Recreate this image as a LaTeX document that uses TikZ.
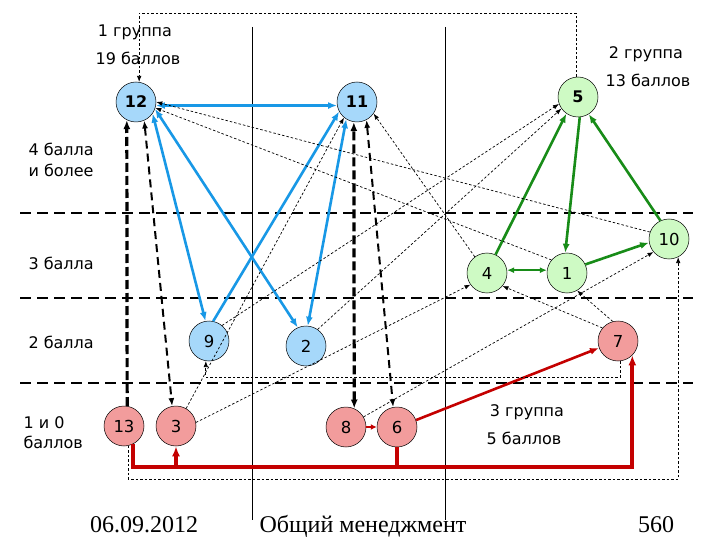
\documentclass[tikz,border=0pt]{standalone}
\usepackage{fontspec}
\setmainfont{DejaVu Sans}
\newfontfamily\footserif{Liberation Serif}
\usetikzlibrary{arrows.meta,calc}

\definecolor{vblue}{RGB}{166,216,250}
\definecolor{vgreen}{RGB}{206,250,196}
\definecolor{vred}{RGB}{242,156,156}
\definecolor{eblue}{RGB}{24,152,230}
\definecolor{egreen}{RGB}{24,140,24}
\definecolor{ered}{RGB}{196,0,0}

\tikzset{
	vtx/.style={circle,draw,line width=0.5pt,minimum size=40pt,inner sep=0pt,font=\fontsize{16.5}{16.5}\selectfont},
	bvtx/.style={font=\fontsize{16}{16}\selectfont\bfseries},
	bl/.style={vtx,fill=vblue},
	gr/.style={vtx,fill=vgreen},
	rd/.style={vtx,fill=vred},
	lbl/.style={anchor=base,font=\fontsize{16}{16}\selectfont},
	lbll/.style={anchor=base west,font=\fontsize{16}{16}\selectfont},
	foot/.style={anchor=base,font=\footserif\fontsize{24}{24}\selectfont},
	sep/.style={line width=2.4pt,dash pattern=on 11pt off 6pt},
	bigtip/.style={>={Latex[length=9pt,width=7pt]}},
	blueline/.style={draw=eblue,line width=2.6pt,bigtip},
	greenline/.style={draw=egreen,line width=2.6pt,bigtip},
	redline/.style={draw=ered,line width=2.6pt,bigtip},
	redpath/.style={draw=ered,line width=3.8pt,>={Latex[length=10pt,width=8pt]}},
	fat/.style={line width=3.2pt,dash pattern=on 9pt off 4pt,>={Latex[length=9pt,width=7pt]}},
	mid/.style={line width=2pt,dash pattern=on 8pt off 5pt,>={Latex[length=8pt,width=6pt]}},
	fine/.style={line width=0.7pt,dash pattern=on 2.5pt off 2pt,>={Latex[length=6pt,width=4.5pt]}},
}

\begin{document}
\begin{tikzpicture}[x=1pt,y=-1pt]
	\path[fill=white] (0,0) rectangle (720,540);
	\useasboundingbox (0,0) rectangle (720,540);
	% score levels
	\foreach \y in {213,298,383}
		\draw[sep] (20,\y) -- (693,\y);
	\draw[line width=0.8pt] (252,27) -- (252,520) (445,27) -- (445,520);

	% group 1
	\node[bl,bvtx] (v12) at (136,102) {12};
	\node[bl,bvtx] (v11) at (357,102) {11};
	\node[bl] (v9) at (209,341) {9};
	\node[bl] (v2) at (306,346) {2};
	% group 2
	\node[gr,bvtx] (v5) at (578,97) {5};
	\node[gr] (v10) at (669,239) {10};
	\node[gr] (v4) at (487,273) {4};
	\node[gr] (v1) at (567,273) {1};
	% group 3
	\node[rd] (v7) at (618,341) {7};
	\node[rd] (v13) at (124,426) {13};
	\node[rd] (v3) at (176,426) {3};
	\node[rd] (v8) at (346,427) {8};
	\node[rd] (v6) at (397,427) {6};

	% blue
	\draw[blueline,<->] (v12.-10) -- (v11.190);
	\draw[blueline,<->] (v12.-35) -- (v9.100);
	\draw[blueline,<->] (v12.-20) -- (v2.114);
	\draw[blueline,->] (v9.78) -- (v11.208);
	\draw[blueline,<->] (v2.85) -- (v11.238);
	% green
	\draw[greenline,->] (v4.65) -- (v5.235);
	\draw[greenline,->] (v5.275) -- (v1.95);
	\draw[greenline,->] (v10.115) -- (v5.302);
	\draw[greenline,line width=1.8pt,>={Latex[length=7pt,width=6pt]},<->] (v4.8) -- (v1.172);
	\draw[greenline,->] (v1.25) -- (v10.190);
	% red
	\draw[redline,>={Latex[length=6pt,width=6pt]},->] (v8) -- (v6);
	\draw[redline,->] (v6.20) -- (v7.200);
	\coordinate (rb) at (0,467);
	\draw[redpath,->] (v13.297) -- (v13.297 |- rb) -| (v7.315);
	\draw[redpath,->] (v6.south) -- (v6.south |- rb) -| (v3.south);

	% black dashed
	\draw[fat,->] (v13.81) -- (v12.243);
	\draw[mid,<->] (v12.294) -- (v3.101);
	\draw[fat,<->] (v8.66) -- (v11.261);
	\draw[mid,<->] (v11.298) -- (v6.101);

	% thin dashed
	\coordinate (tp) at (0,13);
	\coordinate (bt) at (0,479);
	\coordinate (mb) at (0,377);
	\draw[fine,->] (v5.96) -- (v5.96 |- tp) -| (v12.81);
	\draw[fine,->] (v13.282) -- (v13.282 |- bt) -| (v10.297);
	\draw[fine,->] (v7.276) -- (v7.276 |- mb) -| (v9.261);
	\foreach \a/\b in {v10.160/v12.0, v1.140/v12.-17, v4.127/v11.-35,
			v2.55/v5.215, v9.50/v5.200, v3.60/v11.230, v3.10/v4.215,
			v8.30/v10.220, v7.105/v1.300, v7.140/v4.-40}
		\draw[fine,->] (\a) -- (\b);

	% labels
	\node[lbl] (g1) at (135,37) {1 группа};
	\node[lbl] (g1s) at (138,65) {19 баллов};
	\node[lbl] (g2) at (646,59) {2 группа};
	\node[lbl] (g2s) at (648,87) {13 баллов};
	\node[lbl] (g3) at (527,416) {3 группа};
	\node[lbl] (g3s) at (524,444) {5 баллов};
	\node[lbll] (s4) at (25,156) {4 балла};
	\node[lbll] (s4b) at (25,177) {и более};
	\node[lbll] (s3) at (25,269) {3 балла};
	\node[lbll] (s2) at (25,348) {2 балла};
	\node[lbll] (s1) at (20,428) {1 и 0};
	\node[lbll] (s1b) at (20,448) {баллов};

	% footer
	\node[foot] (date) at (144,532) {06.09.2012};
	\node[foot] (title) at (363,532) {Общий менеджмент};
	\node[foot] (page) at (656,532) {560};
\end{tikzpicture}
\end{document}
